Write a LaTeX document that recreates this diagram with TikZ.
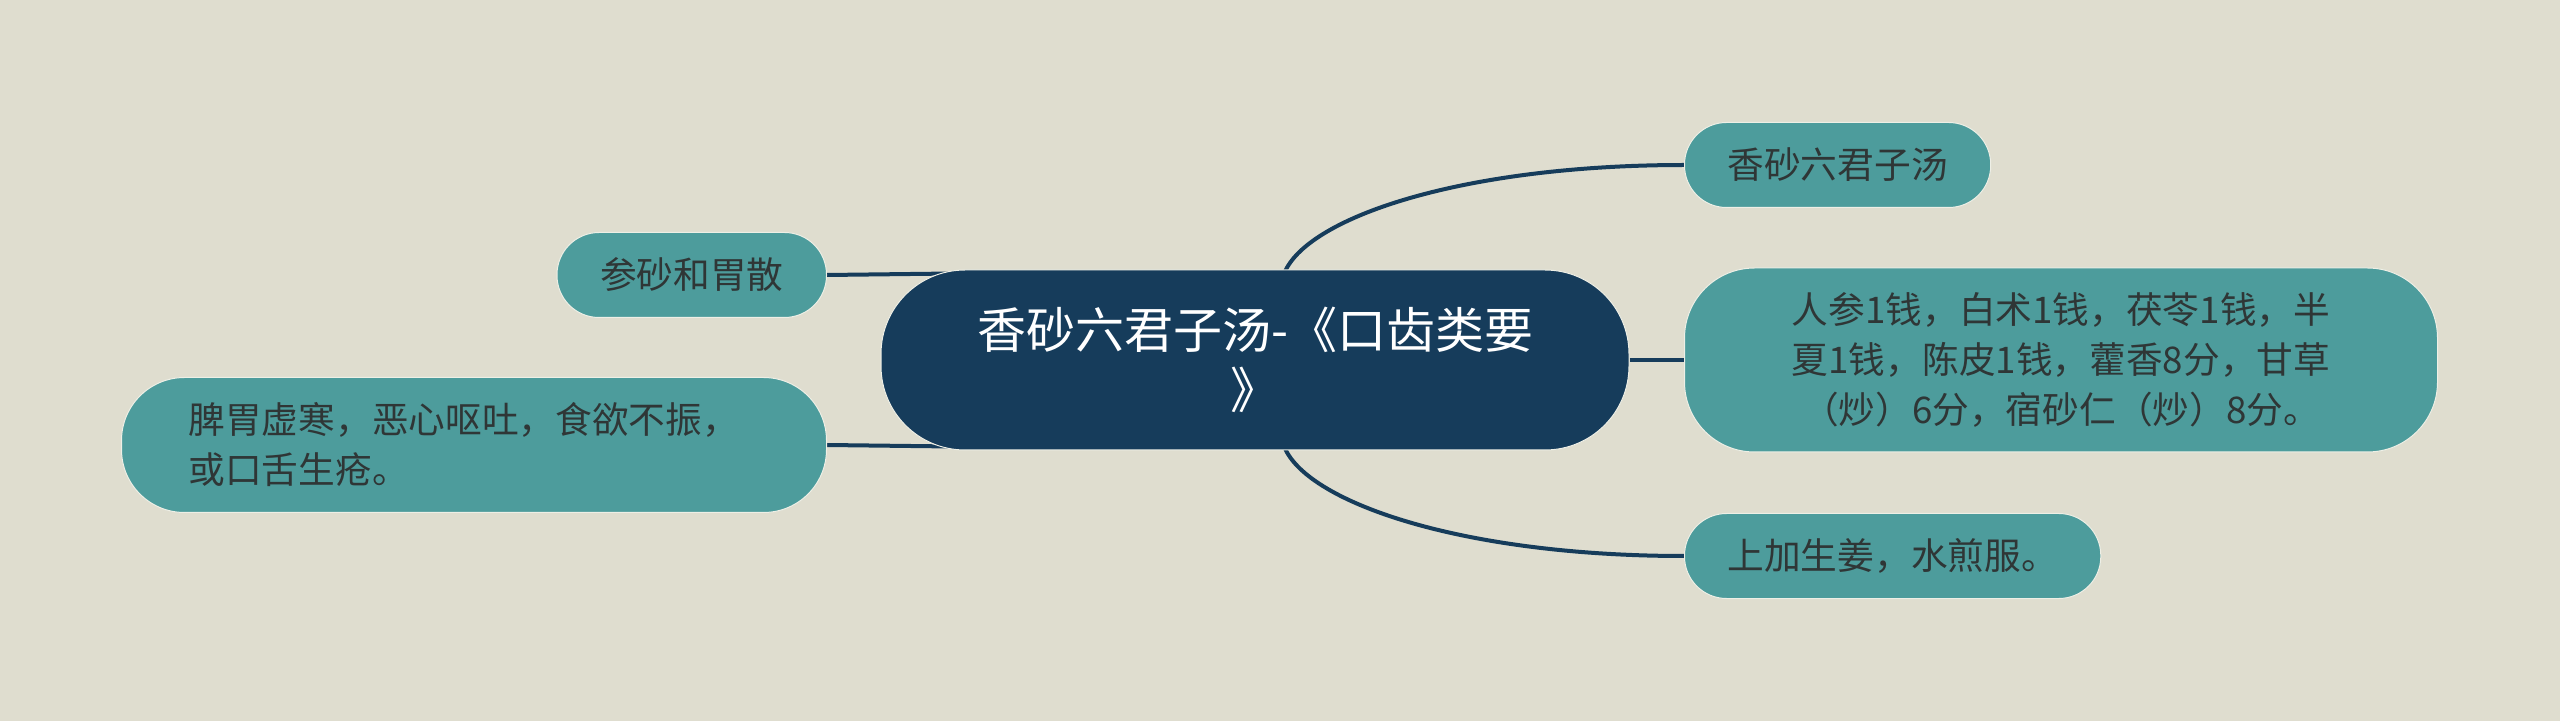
\documentclass[tikz,border=0pt]{standalone}
\usepackage{fontspec}
\setmainfont{Noto Sans CJK SC}
\usepackage{tikz}
\usetikzlibrary{positioning, backgrounds}

\definecolor{paper}{HTML}{DFDDCF}
\definecolor{mapteal}{HTML}{4D9C9C}
\definecolor{mapnavy}{HTML}{163C5B}
\definecolor{inkgray}{HTML}{2F3636}
\definecolor{rim}{HTML}{EEEFE6}

\pgfdeclarelayer{paperlayer}
\pgfsetlayers{paperlayer,background,main}

\begin{document}
\begin{tikzpicture}[
    x=0.5pt, y=-0.5pt,
    root/.style={fill=mapnavy, draw=rim, line width=0.5pt, rounded corners=42pt,
        minimum width=374pt, minimum height=90pt, inner sep=0pt, align=center,
        text=white, font=\fontsize{24.5}{30}\selectfont},
    leaf/.style={fill=mapteal, draw=rim, line width=0.5pt, rounded corners=21pt,
        minimum height=42.5pt, inner xsep=21.5pt, inner ysep=0pt,
        text=inkgray, font=\fontsize{18.35}{25}\selectfont},
    branch/.style={draw=mapnavy, line width=2pt}
]
\useasboundingbox (0,0) rectangle (2560,721);
\begin{pgfonlayer}{paperlayer}
    \fill[paper] (0,0) rectangle (2560,721);
\end{pgfonlayer}

\node [root] (root) at (1255,360) {香砂六君子汤-《口齿类要\\》};

\node [leaf, anchor=west] (n1) at (1684,165) {香砂六君子汤};
\node [leaf, anchor=west, minimum width=376.5pt, minimum height=92pt,
    rounded corners=35pt, align=center] (n2) at (1684,360)
    {人参1钱，白术1钱，茯苓1钱，半\\夏1钱，陈皮1钱，藿香8分，甘草\\（炒）6分，宿砂仁（炒）8分。};
\node [leaf, anchor=west] (n3) at (1684,556) {上加生姜，水煎服。};

\node [leaf, anchor=east] (l1) at (827,275) {参砂和胃散};
\node [leaf, anchor=east, text width=285.5pt, inner xsep=33.5pt, minimum height=67.5pt,
    rounded corners=31.5pt, align=left] (l2) at (827,445)
    {脾胃虚寒，恶心呕吐，食欲不振，\\或口舌生疮。};

\begin{scope}[on background layer]
    \draw[branch] ([xshift=15pt, yshift=-1pt]root.north) .. controls +(12.5pt,27.5pt) and +(-110pt,0pt) .. (n1.west);
    \draw[branch] ([xshift=15pt, yshift=1pt]root.south) .. controls +(12.5pt,-27.5pt) and +(-110pt,0pt) .. (n3.west);
    \draw[branch] (root.east) -- (n2.west);
    \draw[branch] (l1.east) -- ([xshift=36pt, yshift=-2pt]root.north west);
    \draw[branch] (l2.east) -- ([xshift=36pt, yshift=2pt]root.south west);
\end{scope}
\end{tikzpicture}
\end{document}
